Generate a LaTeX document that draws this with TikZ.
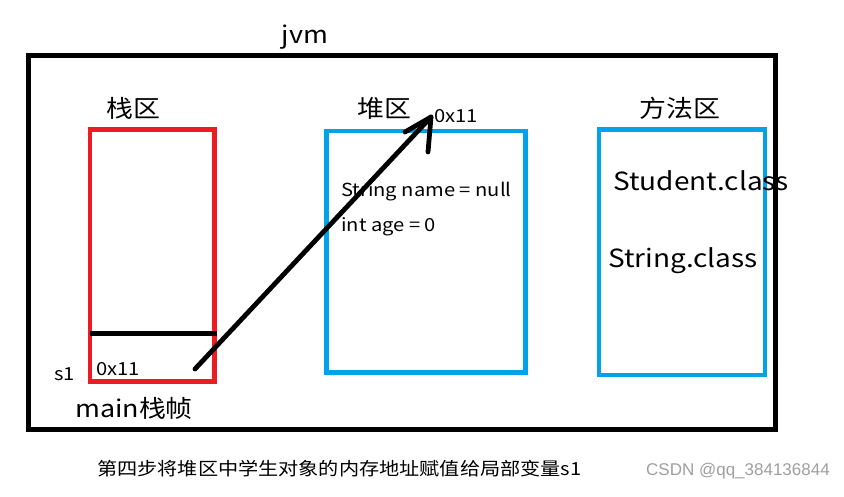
\documentclass[tikz,border=0pt]{standalone}
\usepackage{fontspec}
\setmainfont{Noto Sans CJK SC}[FakeStretch=1.12]
\newfontfamily\wmfont{Liberation Sans}
\definecolor{paintred}{HTML}{ED1C24}
\definecolor{paintblue}{HTML}{00A2E8}
\definecolor{wmgray}{HTML}{A0A0A0}
\newcommand{\fsz}[1]{\fontsize{#1}{#1}\selectfont}
\tikzset{
  outerbox/.style={draw=black, line width=5pt},
  redbox/.style={draw=paintred, line width=4.5pt},
  bluebox/.style={draw=paintblue, line width=4.5pt},
  divider/.style={draw=black, line width=4.5pt},
  pen/.style={draw=black, line width=4.8pt, line cap=round, line join=round},
  lbl/.style={inner sep=0pt, text=black},
  title/.style={lbl, font=\fsz{24}},
  small/.style={lbl, font=\fsz{18}},
  big/.style={lbl, font=\fsz{25}},
}
\begin{document}
\begin{tikzpicture}[x=1pt,y=-1pt]
\useasboundingbox (0,0) rectangle (844,496);
\fill[white] (0,0) rectangle (844,496);
% boxes
\draw[outerbox] (28.5,55.5) rectangle (775,429.5);
\draw[redbox] (90,129.5) rectangle (214.5,381.5);
\draw[divider] (90,333.5) -- (217,333.5);
\draw[bluebox] (326.5,131) rectangle (525.5,372.5);
\draw[bluebox] (599,129.5) rectangle (765,375);
% labels
\node[title, anchor=base] (jvm) at (305,43) {jvm};
\node[title] (stackT) at (133,108) {栈区};
\node[title] (heapT) at (384,108) {堆区};
\node[title] (methT) at (680,108) {方法区};
\node[small] (addrTop) at (456,116) {0x11};
\node[small, anchor=base west] (fname) at (341,196) {String name~=~null};
\node[small, anchor=base west] (fage) at (341,231) {int age~=~0};
\node[big, anchor=base west] (stu) at (613,190) {Student.class};
\node[big, anchor=base west] (str) at (608,267) {String.class};
\node[small, anchor=base west] (s1) at (54,380) {s1};
\node[small, anchor=base west] (addr) at (96,375) {0x11};
\node[title, anchor=base west] (mainf) at (75,417) {main栈帧};
\node[lbl, font=\fsz{18}, anchor=base west] (cap) at (97,475) {第四步将堆区中学生对象的内存地址赋值给局部变量s1};
\node[lbl, font=\wmfont\fsz{17}, text=wmgray, anchor=base east] (wm) at (830,475) {CSDN @qq\_384136844};
% arrow
\coordinate (src) at (195,369);
\coordinate (tip) at (431,117);
\coordinate (barbL) at (405,132);
\coordinate (barbD) at (428,152);
\draw[pen] (src) -- (tip);
\draw[pen] (barbL) -- (tip) -- (barbD);
\end{tikzpicture}
\end{document}
